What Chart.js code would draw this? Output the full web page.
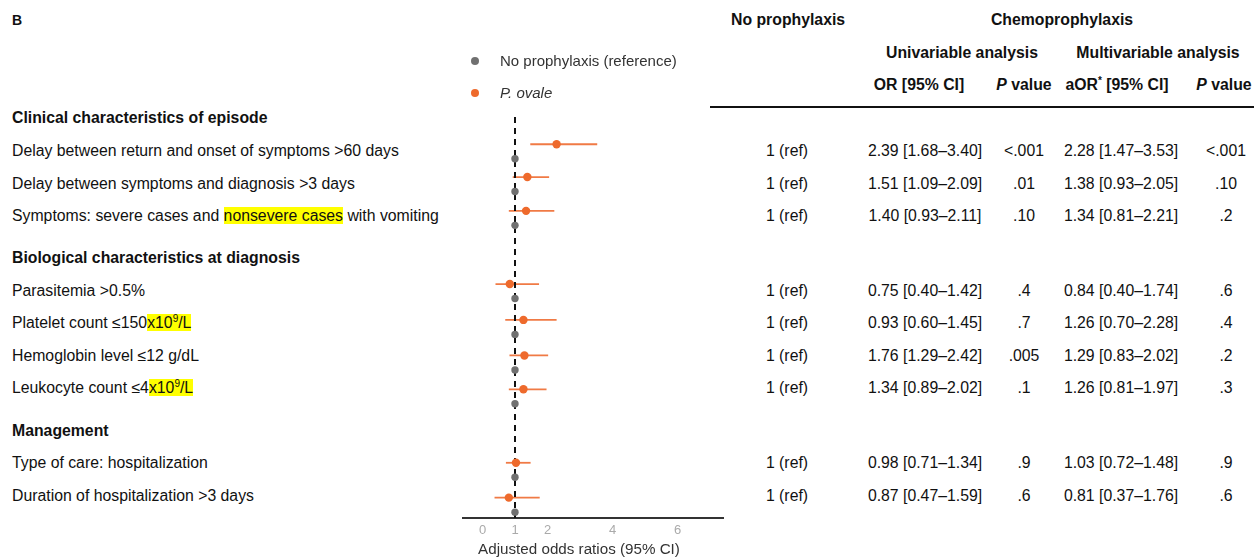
<!DOCTYPE html>
<html>
<head>
<meta charset="utf-8">
<script src="https://cdn.jsdelivr.net/npm/chart.js@4.4.0/dist/chart.umd.min.js"></script>
<style>
  body { margin: 0; background: #fff; }
  #page { position: relative; width: 1254px; height: 557px; overflow: hidden;
          font-family: "Liberation Sans", Arial, sans-serif; font-size: 15.8px; color: #111; }
  .t { position: absolute; white-space: nowrap; line-height: 20px; }
  .c { transform: translateX(-50%); }
  .b { font-weight: bold; }
  .hl { background: #ffff00; }
  sup { font-size: 10px; line-height: 0; vertical-align: 6px; }
  .dot { position: absolute; width: 8px; height: 8px; border-radius: 50%; }
  #plot { position: absolute; left: 440px; top: 100px; }
</style>
</head>
<body>
<div id="page">
  <canvas id="plot" width="300" height="457"></canvas>
</div>
<script>
// --- data ---
const sections = ["Clinical characteristics of episode", "Biological characteristics at diagnosis", "Management"];
const rowLabels = [
  "Delay between return and onset of symptoms &gt;60 days",
  "Delay between symptoms and diagnosis &gt;3 days",
  "Symptoms: severe cases and <span class='hl'>nonsevere cases</span> with vomiting",
  "Parasitemia &gt;0.5%",
  "Platelet count ≤150<span class='hl'>x10<sup>9</sup>/L</span>",
  "Hemoglobin level ≤12 g/dL",
  "Leukocyte count ≤4<span class='hl'>x10<sup>9</sup>/L</span>",
  "Type of care: hospitalization",
  "Duration of hospitalization &gt;3 days"
];
const refOR = [1, 1, 1, 1, 1, 1, 1, 1, 1];
const orVal = [2.39, 1.51, 1.40, 0.75, 0.93, 1.76, 1.34, 0.98, 0.87];
const orLo  = [1.68, 1.09, 0.93, 0.40, 0.60, 1.29, 0.89, 0.71, 0.47];
const orHi  = [3.40, 2.09, 2.11, 1.42, 1.45, 2.42, 2.02, 1.34, 1.59];
const pUni  = ["&lt;.001", ".01", ".10", ".4", ".7", ".005", ".1", ".9", ".6"];
const aorVal = [2.28, 1.38, 1.34, 0.84, 1.26, 1.29, 1.26, 1.03, 0.81];
const aorLo  = [1.47, 0.93, 0.81, 0.40, 0.70, 0.83, 0.81, 0.72, 0.37];
const aorHi  = [3.53, 2.05, 2.21, 1.74, 2.28, 2.02, 1.97, 1.48, 1.76];
const pMulti = ["&lt;.001", ".10", ".2", ".6", ".4", ".2", ".3", ".9", ".6"];
const xTicks = [0, 1, 2, 4, 6];

// --- layout ---
const sectionY = [118, 258, 431];
const textRowY = [151, 184, 216, 291, 323, 356, 388, 463, 496];
const plotRow = [0, 0.95, 1.93, 4.05, 5.09, 6.12, 7.1, 9.23, 10.24];
const refOffset = 0.42;
const yMin = -0.79, yMax = 10.83;
const orange = "#ee6a2c";
const grey = "#707070";

const page = document.getElementById("page");
function put(html, x, y, cls, style) {
  const d = document.createElement("div");
  d.className = "t " + (cls || "");
  d.innerHTML = html;
  d.style.left = x + "px";
  d.style.top = (y - 10) + "px";
  if (style) Object.assign(d.style, style);
  page.appendChild(d);
}
const fmt = (v, lo, hi) => `${v.toFixed(2)} [${lo.toFixed(2)}–${hi.toFixed(2)}]`;

put("B", 12, 20, "b", { fontSize: "14px" });
put("No prophylaxis", 731, 20, "b");
put("Chemoprophylaxis", 1062, 20, "b c");
put("Univariable analysis", 962, 53, "b c");
put("Multivariable analysis", 1158, 53, "b c");
put("OR [95% CI]", 919, 85, "b c");
put("<i>P</i> value", 1024, 85, "b c");
put("aOR<sup>*</sup> [95% CI]", 1117, 85, "b c");
put("<i>P</i> value", 1224, 85, "b c");

const rule = document.createElement("div");
Object.assign(rule.style, { position: "absolute", left: "710px", top: "106px", width: "544px", height: "2px", background: "#111" });
page.appendChild(rule);

sections.forEach((s, i) => put(s, 12, sectionY[i], "b"));
rowLabels.forEach((s, i) => {
  const y = textRowY[i];
  put(s, 12, y);
  put(`${refOR[i]} (ref)`, 787, y, "c");
  put(fmt(orVal[i], orLo[i], orHi[i]), 925, y, "c");
  put(pUni[i], 1024, y, "c");
  put(fmt(aorVal[i], aorLo[i], aorHi[i]), 1121, y, "c");
  put(pMulti[i], 1226, y, "c");
});

// legend
[[grey, "No prophylaxis (reference)", 61], [orange, "<i>P. ovale</i>", 93]].forEach(([col, txt, y]) => {
  const d = document.createElement("div");
  d.className = "dot";
  Object.assign(d.style, { left: "471px", top: (y - 4) + "px", background: col });
  page.appendChild(d);
  put(txt, 500, y, "", { fontSize: "15px", color: "#333" });
});
put("Adjusted odds ratios (95% CI)", 579, 549, "c", { fontSize: "15.2px", color: "#333" });

// --- chart ---
const datasets = [];
aorVal.forEach((v, i) => {
  datasets.push({
    data: [{ x: aorLo[i], y: plotRow[i] }, { x: aorHi[i], y: plotRow[i] }],
    showLine: true, borderColor: "#f07a45", borderWidth: 1.8, pointRadius: 0, order: 4
  });
});
datasets.push({
  data: [{ x: 1, y: yMin }, { x: 1, y: yMax }],
  showLine: true, borderColor: "#111", borderWidth: 2, borderDash: [6, 5], pointRadius: 0, order: 3
});
datasets.push({
  label: "No prophylaxis (reference)",
  data: refOR.map((v, i) => ({ x: v, y: plotRow[i] + refOffset })),
  backgroundColor: grey, borderWidth: 0, pointRadius: 3.7, order: 2
});
datasets.push({
  label: "P. ovale",
  data: aorVal.map((v, i) => ({ x: v, y: plotRow[i] })),
  backgroundColor: orange, borderWidth: 0, pointRadius: 4.2, order: 1
});

new Chart(document.getElementById("plot"), {
  type: "scatter",
  data: { datasets: datasets },
  options: {
    responsive: false,
    animation: false,
    layout: { padding: { left: 23, right: 17, top: 17, bottom: 17 } },
    plugins: { legend: { display: false }, tooltip: { enabled: false } },
    scales: {
      x: {
        type: "linear",
        min: -0.6,
        max: 7.4,
        afterBuildTicks: s => { s.ticks = xTicks.map(v => ({ value: v })); },
        afterFit: s => { s.height = 22; },
        grid: { display: false, drawTicks: false },
        border: { display: true, color: "#333", width: 2 },
        ticks: { color: "#aaa", padding: 5, font: { family: "Liberation Sans", size: 13 } }
      },
      y: { type: "linear", display: false, reverse: true, min: yMin, max: yMax }
    }
  }
});
</script>
</body>
</html>
